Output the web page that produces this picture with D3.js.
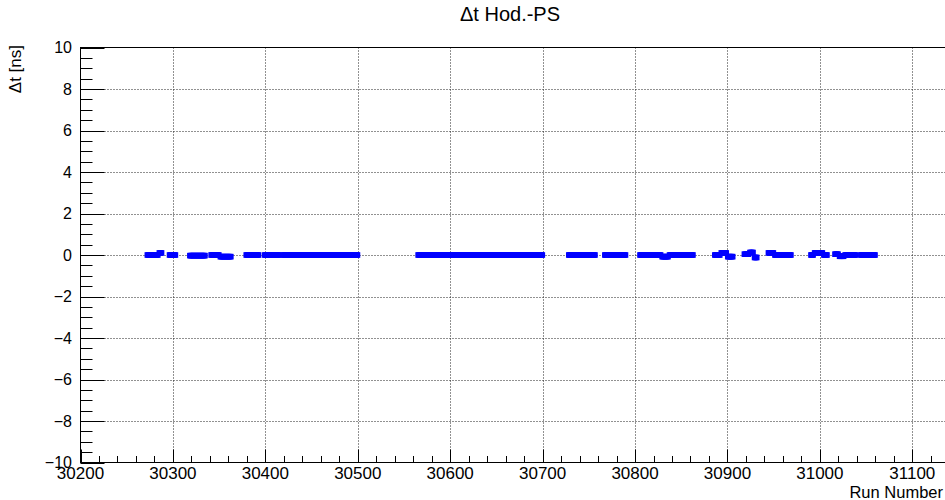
<!DOCTYPE html>
<html>
<head>
<meta charset="utf-8">
<script src="https://cdnjs.cloudflare.com/ajax/libs/d3/7.8.5/d3.min.js"></script>
<style>
  body { margin: 0; background: #fff; }
  svg { display: block; font-family: "Liberation Sans", Arial, Helvetica, sans-serif; }
</style>
</head>
<body>
<div class="chart"></div>
<script>
var segStart = [30272, 30285, 30296, 30318, 30341, 30351, 30379, 30399, 30419, 30427,
                30565, 30665, 30728, 30767, 30776, 30805, 30829, 30837, 30853,
                30886, 30893, 30900, 30918, 30924, 30929, 30944, 30951,
                30990, 30994, 31004, 31016, 31021, 31027, 31044];
var segEnd   = [30284, 30288, 30303, 30335, 30350, 30363, 30393, 30415, 30424, 30500,
                30663, 30700, 30757, 30773, 30790, 30828, 30836, 30851, 30863,
                30892, 30899, 30906, 30923, 30928, 30932, 30950, 30969,
                30993, 31003, 31008, 31020, 31026, 31039, 31060];
var segValue = [0.0, 0.1, 0.0, -0.03, 0.0, -0.08, 0.0, 0.0, 0.0, 0.0,
                0.0, 0.0, 0.0, 0.0, 0.0, 0.0, -0.08, 0.0, 0.0,
                0.0, 0.1, -0.08, 0.04, 0.12, -0.12, 0.1, 0.0,
                0.0, 0.1, 0.0, 0.04, -0.06, 0.0, 0.0];

// axis ticks
var xMajor = [30200, 30300, 30400, 30500, 30600, 30700, 30800, 30900, 31000, 31100];
var yMajor = [-10, -8, -6, -4, -2, 0, 2, 4, 6, 8, 10];

var titleText = "\u0394t Hod.-PS";
var xTitle = "Run Number";
var yTitle = "\u0394t [ns]";

// one marker per run inside each measured range
var points = [];
segStart.forEach(function (s, i) {
  for (var r = s; r <= segEnd[i]; r++) {
    points.push({ run: r, dt: segValue[i] });
  }
});

var W = 945, H = 500;
var frame = { left: 80.5, right: 950, top: 47.5, bottom: 462.5 };

var xScale = d3.scaleLinear().domain([30200, 31100]).range([frame.left, 912.3]);
var yScale = d3.scaleLinear().domain([-10, 10]).range([frame.bottom, frame.top]);
var xMax = xScale.invert(frame.right);

var svg = d3.select(".chart").append("svg")
  .attr("width", W)
  .attr("height", H);

// dotted grid
svg.append("g").selectAll("line.gx")
  .data(xMajor.filter(function (v) { return v > 30200; }))
  .enter().append("line")
  .attr("x1", d => Math.round(xScale(d)) + 0.5).attr("x2", d => Math.round(xScale(d)) + 0.5)
  .attr("y1", frame.top).attr("y2", frame.bottom)
  .attr("stroke", "#222").attr("stroke-width", 1).attr("stroke-dasharray", "1,2");

svg.append("g").selectAll("line.gy")
  .data(yMajor.filter(function (v) { return v > -10 && v < 10; }))
  .enter().append("line")
  .attr("x1", frame.left).attr("x2", frame.right)
  .attr("y1", d => Math.round(yScale(d)) + 0.5).attr("y2", d => Math.round(yScale(d)) + 0.5)
  .attr("stroke", "#222").attr("stroke-width", 1).attr("stroke-dasharray", "1,2");

// frame
svg.append("rect")
  .attr("x", frame.left).attr("y", frame.top)
  .attr("width", frame.right - frame.left).attr("height", frame.bottom - frame.top)
  .attr("fill", "none").attr("stroke", "#000").attr("stroke-width", 1);

// x ticks (major 100, minor 20), pointing up into the frame
var xMinor = d3.range(30200, xMax, 20);
svg.append("g").selectAll("line")
  .data(xMinor)
  .enter().append("line")
  .attr("x1", d => Math.round(xScale(d)) + 0.5).attr("x2", d => Math.round(xScale(d)) + 0.5)
  .attr("y1", frame.bottom)
  .attr("y2", d => frame.bottom - (d % 100 === 0 ? 13 : 6.5))
  .attr("stroke", "#000");

// y ticks (major 2, minor 0.5), pointing right
var yMinor = d3.range(-10, 10.001, 0.5);
svg.append("g").selectAll("line")
  .data(yMinor)
  .enter().append("line")
  .attr("x1", frame.left)
  .attr("x2", d => frame.left + (Math.abs(d % 2) < 1e-6 ? 24 : 12))
  .attr("y1", d => Math.round(yScale(d)) + 0.5).attr("y2", d => Math.round(yScale(d)) + 0.5)
  .attr("stroke", "#000");

// tick labels
svg.append("g").selectAll("text")
  .data(xMajor)
  .enter().append("text")
  .attr("x", d => xScale(d))
  .attr("y", 479)
  .attr("text-anchor", "middle")
  .style("font-size", "17px")
  .text(d => d);

svg.append("g").selectAll("text")
  .data(yMajor)
  .enter().append("text")
  .attr("x", 72)
  .attr("y", d => yScale(d))
  .attr("dy", "0.36em")
  .attr("text-anchor", "end")
  .style("font-size", "16px")
  .text(d => d3.format("")(d));

// markers
svg.append("g").selectAll("rect")
  .data(points)
  .enter().append("rect")
  .attr("x", d => xScale(d.run) - 2.5)
  .attr("y", d => yScale(d.dt) - 2.8)
  .attr("width", 5)
  .attr("height", 5.6)
  .attr("fill", "#0000ff");

// titles
svg.append("text")
  .attr("x", 510).attr("y", 21)
  .attr("text-anchor", "middle")
  .style("font-size", "20px")
  .text(titleText);

svg.append("text")
  .attr("x", 943).attr("y", 498)
  .attr("text-anchor", "end")
  .style("font-size", "16.5px")
  .text(xTitle);

svg.append("text")
  .attr("transform", "translate(21,45) rotate(-90)")
  .attr("text-anchor", "end")
  .style("font-size", "17px")
  .text(yTitle);
</script>
</body>
</html>
